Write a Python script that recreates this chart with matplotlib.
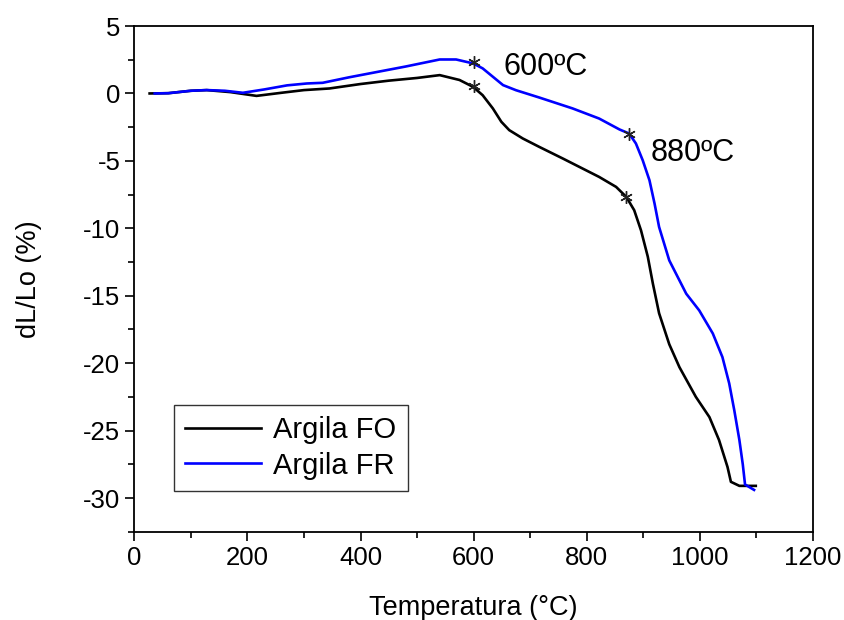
import matplotlib
matplotlib.use("Agg")
import matplotlib.pyplot as plt
from matplotlib.ticker import MultipleLocator

plt.rcParams['font.family'] = ['Liberation Sans', 'DejaVu Sans']
plt.rcParams['axes.unicode_minus'] = False

# Argila FO (black)
fo_x = [27, 60, 100, 128, 170, 216, 260, 300, 345, 400, 450, 500, 540, 575, 599,
        616, 634, 649, 663, 687, 716, 758, 822, 852, 870, 884, 896, 908, 917, 928, 946,
        964, 993, 1017, 1034, 1049, 1055, 1070, 1099]
fo_y = [0, 0.02, 0.2, 0.25, 0.1, -0.18, 0.05, 0.25, 0.37, 0.7, 0.95, 1.15, 1.36, 1.0, 0.49,
        -0.13, -1.11, -2.1, -2.72, -3.34, -3.96, -4.83, -6.19, -6.93, -7.67, -8.66, -10.15, -12.1, -14.1, -16.3, -18.6,
        -20.3, -22.5, -24.0, -25.7, -27.7, -28.8, -29.1, -29.1]

# Argila FR (blue)
fr_x = [36, 60, 100, 128, 160, 192, 230, 270, 305, 333, 380, 430, 480, 540, 569, 599,
        616, 634, 652, 675, 716, 775, 822, 858, 875, 887, 899, 911, 920, 928, 946, 976,
        999, 1023, 1040, 1052, 1061, 1070, 1076, 1080, 1096]
fr_y = [0, 0.02, 0.2, 0.25, 0.2, 0.05, 0.3, 0.6, 0.74, 0.79, 1.2, 1.6, 2.0, 2.52, 2.52, 2.23,
        1.86, 1.24, 0.62, 0.24, -0.3, -1.11, -1.86, -2.67, -2.97, -3.71, -4.95, -6.44, -8.17, -9.9, -12.38, -14.85,
        -16.09, -17.8, -19.55, -21.5, -23.5, -25.7, -27.5, -29.0, -29.4]

# marked points (asterisks)
mark_fo_x = [600, 870]
mark_fo_y = [0.55, -7.67]
mark_fr_x = [600, 875]
mark_fr_y = [2.3, -2.97]

annot_labels = ["600ºC", "880ºC"]
annot_x = [652, 913]
annot_y = [1.97, -4.43]

fig = plt.figure(figsize=(8.45, 6.2), dpi=100)
ax = fig.add_axes([0.159, 0.1424, 0.803, 0.8156])

ax.plot(fo_x, fo_y, color='black', lw=1.9, label='Argila FO')
ax.plot(fr_x, fr_y, color='#0000ff', lw=1.9, label='Argila FR')
ast = (6, 2, 0)
ax.plot(mark_fo_x, mark_fo_y, ls='none', marker=ast, ms=9, mew=1.0, color='#222222')
ax.plot(mark_fr_x, mark_fr_y, ls='none', marker=ast, ms=9, mew=1.0, color='#222222')

for lab, tx, ty in zip(annot_labels, annot_x, annot_y):
    ax.text(tx, ty, lab, fontsize=22, va='center', ha='left')

ax.set_xlim(0, 1200)
ax.set_ylim(-32.5, 5)
ax.xaxis.set_major_locator(MultipleLocator(200))
ax.xaxis.set_minor_locator(MultipleLocator(100))
ax.yaxis.set_major_locator(MultipleLocator(5))
ax.yaxis.set_minor_locator(MultipleLocator(2.5))
ax.tick_params(which='major', direction='out', length=6.5, width=1.2, labelsize=18.5, top=False, right=False)
ax.tick_params(which='minor', direction='out', length=4, width=1.2, top=False, right=False)
for s in ax.spines.values():
    s.set_linewidth(1.3)

ax.set_xlabel('Temperatura (°C)', fontsize=19.5, labelpad=18)
ax.set_ylabel('dL/Lo (%)', fontsize=19.5, labelpad=30)

leg = ax.legend(loc='lower left', bbox_to_anchor=(0.058, 0.08), fontsize=21,
                frameon=True, fancybox=False, edgecolor='black', handlelength=2.6,
                borderpad=0.4, labelspacing=0.25, handletextpad=0.4, borderaxespad=0)
leg.get_frame().set_linewidth(1.0)

fig.savefig('out.png', dpi=100)
